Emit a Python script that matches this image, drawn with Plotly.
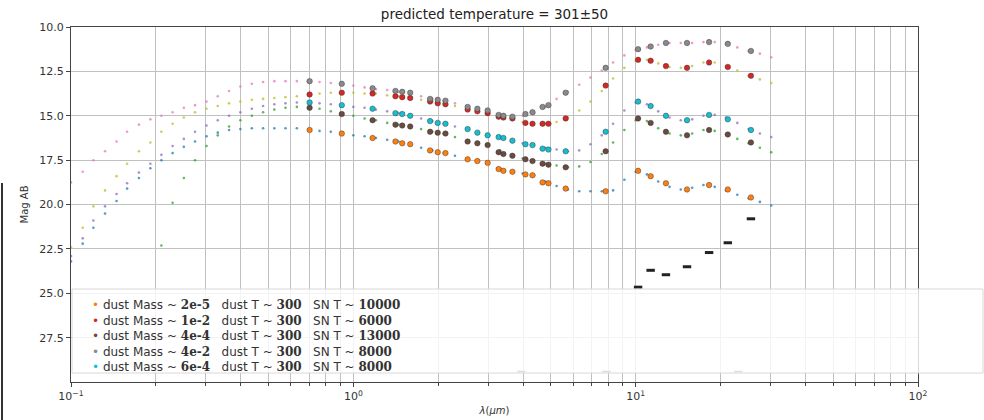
import plotly.graph_objects as go

# ---------------- data ----------------
lam_model = [0.100, 0.110, 0.120, 0.132, 0.145, 0.158, 0.174, 0.191, 0.209, 0.229,
             0.251, 0.275, 0.302, 0.331, 0.363, 0.398, 0.437, 0.479, 0.525, 0.575,
             0.631, 0.692, 0.759, 0.832, 0.912, 1.000, 1.096, 1.202, 1.318, 1.445,
             1.585, 1.738, 1.905, 2.089, 2.291, 2.512, 2.754, 3.020, 3.311, 3.631,
             3.981, 4.365, 4.786, 5.248, 5.754, 6.310, 6.918, 7.586, 8.318, 9.120,
             10.00, 10.96, 12.02, 13.18, 14.45, 15.85, 17.38, 19.05, 20.89, 22.91,
             25.12, 27.54, 30.20]

model_blue = [23.2, 22.2, 21.3, 20.5, 19.8, 19.1, 18.5, 17.95, 17.5, 17.1,
              16.75, 16.45, 16.15, 15.95, 15.8, 15.75, 15.7, 15.7, 15.7, 15.7,
              15.7, 15.8, 15.85, 15.9, 16.0,
              16.1, 16.15, 16.25, 16.35, 16.45, 16.6, 16.8, 16.95, 17.1, 17.25,
              17.45, 17.55, 17.7, 17.95, 18.15, 18.25, 18.35, 18.7, 18.95, 19.15,
              19.25, 19.25, 19.25, 19.2, 18.6, 18.15, 18.3, 18.7, 19.0, 19.15,
              19.05, 18.9, 19.0, 19.2, 19.45, 19.65, 19.85, 20.05]
model_olive = [22.4, 21.3, 20.1, 19.2, 18.4, 17.7, 17.0, 16.5, 15.9, 15.45,
               15.1, 14.8, 14.6, 14.45, 14.3, 14.2, 14.1, 14.05, 14.0, 13.95,
               13.9, 13.8, 13.75, 13.7, 13.7,
               13.7, 13.75, 13.75, 13.85, 13.9, 14.0, 14.1, 14.2, 14.3, 14.45,
               14.6, 14.75, 14.85, 15.0, 15.15, 15.35, 15.45, 15.45, 15.35, 15.1,
               14.7, 14.2, 13.6, 12.9, 12.3, 11.9, 11.85, 12.05, 12.25, 12.3,
               12.2, 12.0, 12.0, 12.2, 12.45, 12.75, 12.95, 13.15]
model_green = [None, None, None, None, None, None, None, None, 22.3, 19.9,
               18.5, 17.5, 16.7, 16.1, 15.6, 15.25, 15.0, 14.8, 14.65, 14.55,
               14.5, 14.55, 14.6, 14.75, 14.9,
               15.0, 15.15, 15.25, 15.4, 15.5, 15.6, 15.75, 15.9, 16.0, 16.2,
               16.45, 16.55, 16.7, 16.95, 17.2, 17.4, 17.55, 17.7, 17.8, 17.9,
               17.85, 17.6, 17.15, 16.5, 15.8, 15.25, 15.3, 15.7, 16.0, 16.1,
               16.0, 15.8, 15.85, 16.05, 16.3, 16.55, 16.8, 17.05]
model_pink = [18.75, 18.15, 17.5, 17.0, 16.45, 15.9, 15.5, 15.2, 15.0, 14.8,
              14.55, 14.4, 14.2, 13.9, 13.6, 13.35, 13.2, 13.1, 13.05, 13.05,
              13.05, 13.05, 13.1, 13.15, 13.2,
              13.3, 13.4, 13.5, 13.55, 13.65, 13.75, 13.9, 14.05, 14.15, 14.3,
              14.45, 14.6, 14.75, 14.9, 15.0, 15.0, 14.85, 14.5, 14.05, 13.65,
              13.25, 12.85, 12.45, 12.0, 11.6, 11.3, 11.15, 11.0, 10.9, 10.9,
              10.9, 10.85, 10.85, 10.95, 11.15, 11.35, 11.5, 11.7]
model_purple = [22.9, 21.9, 20.9, 20.1, 19.4, 18.8, 18.2, 17.7, 17.2, 16.7,
                16.3, 15.9, 15.55, 15.25, 15.0, 14.8, 14.6, 14.45, 14.35, 14.3,
                14.25, 14.25, 14.3, 14.35, 14.4,
                14.5, 14.55, 14.65, 14.75, 14.85, 15.0, 15.15, 15.3, 15.45, 15.6,
                15.75, 15.95, 16.1, 16.25, 16.4, 16.55, 16.65, 16.8, 16.9, 17.0,
                16.95, 16.6, 16.1, 15.45, 14.7, 14.25, 14.35, 14.75, 15.1, 15.25,
                15.2, 15.0, 14.95, 15.1, 15.4, 15.75, 16.0, 16.2]

lam_obs = [0.70, 0.91, 1.17, 1.41, 1.49, 1.59, 1.87, 1.99, 2.12, 2.54,
           2.75, 2.99, 3.27, 3.40, 3.66, 4.07, 4.31, 4.68, 4.91, 5.65,
           7.83, 10.2, 11.3, 12.8, 15.2, 18.2, 21.2, 25.6]
obs_2e5 = [15.8, 16.0, 16.25, 16.45, 16.55, 16.6, 16.95, 17.05, 17.1, 17.45,
           17.55, 17.65, 18.0, 18.1, 18.15, 18.3, 18.35, 18.75, 18.8, 19.1,
           19.25, 18.1, 18.4, 18.8, 19.15, 18.9, 19.15, 19.6]
obs_1e2 = [13.8, 13.7, 13.75, 13.9, 13.95, 14.0, 14.2, 14.3, 14.35, 14.65,
           14.75, 14.85, 15.05, 15.1, 15.15, 15.4, 15.45, 15.45, 15.45, 15.15,
           13.3, 11.85, 11.9, 12.2, 12.3, 12.0, 12.25, 12.75]
obs_4e4 = [14.55, 14.9, 15.25, 15.5, 15.55, 15.6, 15.9, 15.95, 16.0, 16.45,
           16.55, 16.65, 17.05, 17.15, 17.25, 17.45, 17.55, 17.7, 17.75, 17.9,
           17.0, 15.15, 15.4, 15.9, 16.1, 15.8, 16.05, 16.5]
obs_4e2 = [13.05, 13.2, 13.45, 13.6, 13.65, 13.7, 14.05, 14.1, 14.15, 14.5,
           14.6, 14.7, 14.95, 15.0, 15.05, 14.9, 14.8, 14.5, 14.4, 13.7,
           12.3, 11.25, 11.1, 10.9, 10.9, 10.85, 10.95, 11.35]
obs_6e4 = [14.25, 14.4, 14.6, 14.85, 14.9, 15.0, 15.3, 15.4, 15.45, 15.75,
           15.95, 16.1, 16.2, 16.25, 16.4, 16.6, 16.65, 16.85, 16.9, 17.0,
           15.9, 14.2, 14.45, 15.0, 15.25, 14.95, 15.2, 15.8]

lam_black = [10.2, 11.3, 12.8, 15.2, 18.2, 21.2, 25.6]
mag_black = [24.65, 23.7, 23.95, 23.5, 22.7, 22.15, 20.8]
lam_limit = [3.94, 7.88, 23.1]
mag_limit = [29.4, 29.4, 29.4]

dust_mass = ["2e-5", "1e-2", "4e-4", "4e-2", "6e-4"]
dust_T = ["300", "300", "300", "300", "300"]
sn_T = ["10000", "6000", "13000", "8000", "8000"]

x_major = [0.1, 1, 10, 100]
x_major_text = ["10<sup>−1</sup>", "10<sup>0</sup>", "10<sup>1</sup>", "10<sup>2</sup>"]

# ---------------- styling ----------------
model_series = [model_blue, model_olive, model_green, model_pink, model_purple]
model_colors = ["#1f77b4", "#bcbd22", "#2ca02c", "#e377c2", "#9467bd"]
obs_series = [obs_2e5, obs_1e2, obs_4e4, obs_4e2, obs_6e4]
obs_colors = ["#ff7f0e", "#d62728", "#6b4a42", "#8a8a8a", "#17becf"]

fig = go.Figure()

for ys, c in zip(model_series, model_colors):
    fig.add_trace(go.Scatter(x=lam_model, y=ys, mode="markers",
                             marker=dict(size=2.6, color=c, opacity=0.75),
                             showlegend=False, hoverinfo="skip"))

for ys, c, m, t, s in zip(obs_series, obs_colors, dust_mass, dust_T, sn_T):
    fig.add_trace(go.Scatter(x=lam_obs, y=ys, mode="markers",
                             name=f"dust Mass ~ {m}  dust T ~ {t}  SN T ~ {s}",
                             marker=dict(size=5.5, color=c,
                                         line=dict(width=0.8, color="rgba(40,40,40,0.5)")),
                             showlegend=False))

fig.add_trace(go.Scatter(x=lam_black, y=mag_black, mode="markers",
                         marker=dict(symbol="line-ew", size=6, line=dict(width=3, color="#222")),
                         showlegend=False))
fig.add_trace(go.Scatter(x=lam_limit, y=mag_limit, mode="markers",
                         marker=dict(symbol="line-ew", size=6, line=dict(width=1.5, color="#555")),
                         showlegend=False))

# legend emulation (box + text lines)
NB = "\u00a0"
bold = lambda v: f'<span style="font-family:\'DejaVu Serif\'"><b>{v}</b></span>'
lines = []
for c, m, t, s in zip(obs_colors, dust_mass, dust_T, sn_T):
    lines.append(f'<span style="color:{c}">•</span>{NB}dust Mass ~ {bold(m)}{NB*3}'
                 f'dust T ~ {bold(t)}{NB*3}SN T ~ {bold(s)}')

L, R, T, B = 71, 66, 27, 38
W, H = 984 - L - R, 420 - T - B
px = lambda x: (x - L) / W
py = lambda y: (420 - B - y) / H

fig.add_shape(type="rect", xref="paper", yref="paper",
              x0=px(72), x1=px(983), y0=py(373), y1=py(289),
              fillcolor="rgba(255,255,255,0.8)", line=dict(color="#d8d8d8", width=1), layer="above")
fig.add_annotation(xref="paper", yref="paper", x=px(90), y=py(296), xanchor="left", yanchor="top",
                   text="<br>".join(lines), showarrow=False, align="left",
                   font=dict(family="DejaVu Sans", size=12, color="#333"))

# stray dark line at far left of the screenshot
fig.add_shape(type="line", xref="paper", yref="paper", x0=px(2), x1=px(2), y0=py(420), y1=py(183),
              line=dict(color="#333", width=2))

fig.update_layout(
    width=984, height=420,
    margin=dict(l=L, r=R, t=T, b=B),
    paper_bgcolor="white", plot_bgcolor="white",
    font=dict(family="DejaVu Sans", color="#333"),
    title=dict(text="predicted temperature = 301±50", x=0.5, xref="paper", xanchor="center",
               y=1 - 14 / 420, yref="container", yanchor="middle",
               font=dict(size=13.5, color="#222")),
    showlegend=False,
)
fig.update_xaxes(type="log", range=[-1, 2], tickvals=x_major, ticktext=x_major_text,
                 showgrid=True, gridcolor="#c0c0c0", gridwidth=1,
                 minor=dict(dtick="D1", showgrid=True, gridcolor="#c0c0c0", gridwidth=1,
                            ticks="outside", ticklen=2.5, tickcolor="#444"),
                 showline=True, linecolor="#444", linewidth=1.2, mirror=True,
                 ticks="outside", ticklen=4, tickcolor="#444",
                 tickfont=dict(size=11, color="#333"),
                 title=dict(text="<i>λ</i>(<i>μm</i>)", font=dict(size=10, color="#333"), standoff=4),
                 automargin=False, zeroline=False)
fig.update_yaxes(range=[29.99, 10], tick0=10, dtick=2.5, tickformat=".1f",
                 showgrid=True, gridcolor="#c0c0c0", gridwidth=1,
                 showline=True, linecolor="#444", linewidth=1.2, mirror=True,
                 ticks="outside", ticklen=4, tickcolor="#444",
                 tickfont=dict(size=11, color="#333"),
                 title=dict(text="Mag AB", font=dict(size=10, color="#333"), standoff=8),
                 automargin=False, zeroline=False)

fig.write_html("out.html")
